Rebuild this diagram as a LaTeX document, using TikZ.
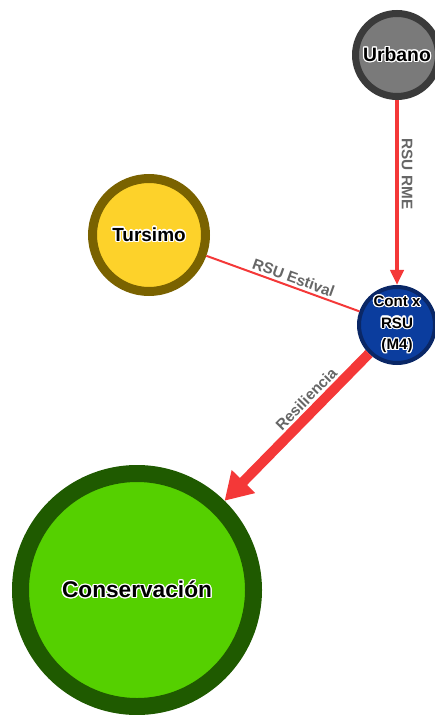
\documentclass[tikz,border=0pt]{standalone}
\usepackage{fontspec}
\setmainfont{Liberation Sans}
\usepackage[copies]{contour}
\contourlength{0.7pt}
\usetikzlibrary{arrows.meta}

\definecolor{urbanfill}{HTML}{7A7A7A}
\definecolor{urbanline}{HTML}{3A3A3A}
\definecolor{turfill}{HTML}{FDD22A}
\definecolor{turline}{HTML}{7A6200}
\definecolor{contfill}{HTML}{0B3D9E}
\definecolor{contline}{HTML}{0A2766}
\definecolor{consfill}{HTML}{55D000}
\definecolor{consline}{HTML}{1F5A00}
\definecolor{linkred}{HTML}{F43838}
\definecolor{labelgray}{HTML}{666666}

\newcommand{\halo}[1]{\contour{white}{#1}}

\begin{document}
\begin{tikzpicture}[
  hub/.style={circle, draw, inner sep=0pt, align=center},
  flow/.style={draw=linkred},
  edgelabel/.style={font=\bfseries\fontsize{8.7}{10}\selectfont, text=labelgray, inner sep=1.5pt}
]
\useasboundingbox (0,0) rectangle (8.7,-14.3);
\node[hub, fill=urbanfill, draw=urbanline, line width=0.14cm, minimum size=1.66cm,
  font=\bfseries\fontsize{11}{13}\selectfont] (urbano) at (7.94,-1.10) {\halo{Urbano}};
\node[hub, fill=turfill, draw=turline, line width=0.18cm, minimum size=2.26cm,
  font=\bfseries\fontsize{10.8}{13}\selectfont] (tursimo) at (2.98,-4.70) {\halo{Tursimo}};
\node[hub, fill=contfill, draw=contline, line width=0.08cm, minimum size=1.52cm,
  font=\bfseries\fontsize{8.6}{12.3}\selectfont] (contx) at (7.94,-6.50) {\halo{Cont x}\\\halo{RSU}\\\halo{(M4)}};
\node[hub, fill=consfill, draw=consline, line width=0.34cm, minimum size=4.66cm,
  font=\bfseries\fontsize{12.9}{15}\selectfont] (conserv) at (2.74,-11.80) {\halo{Conservación}};

\draw[flow, line width=0.08cm, -{Triangle[length=0.3cm,width=0.26cm]}] (urbano) -- node[edgelabel, sloped, above, pos=0.4] {RSU RME} (contx);
\draw[flow, line width=0.04cm] (tursimo) -- node[edgelabel, sloped, above, pos=0.55] {RSU Estival} (contx);
\draw[flow, line width=0.2cm, -{Triangle[length=0.54cm,width=0.62cm]}] (contx) -- node[edgelabel, sloped, above, pos=0.37] {Resiliencia} (conserv);
\end{tikzpicture}
\end{document}
